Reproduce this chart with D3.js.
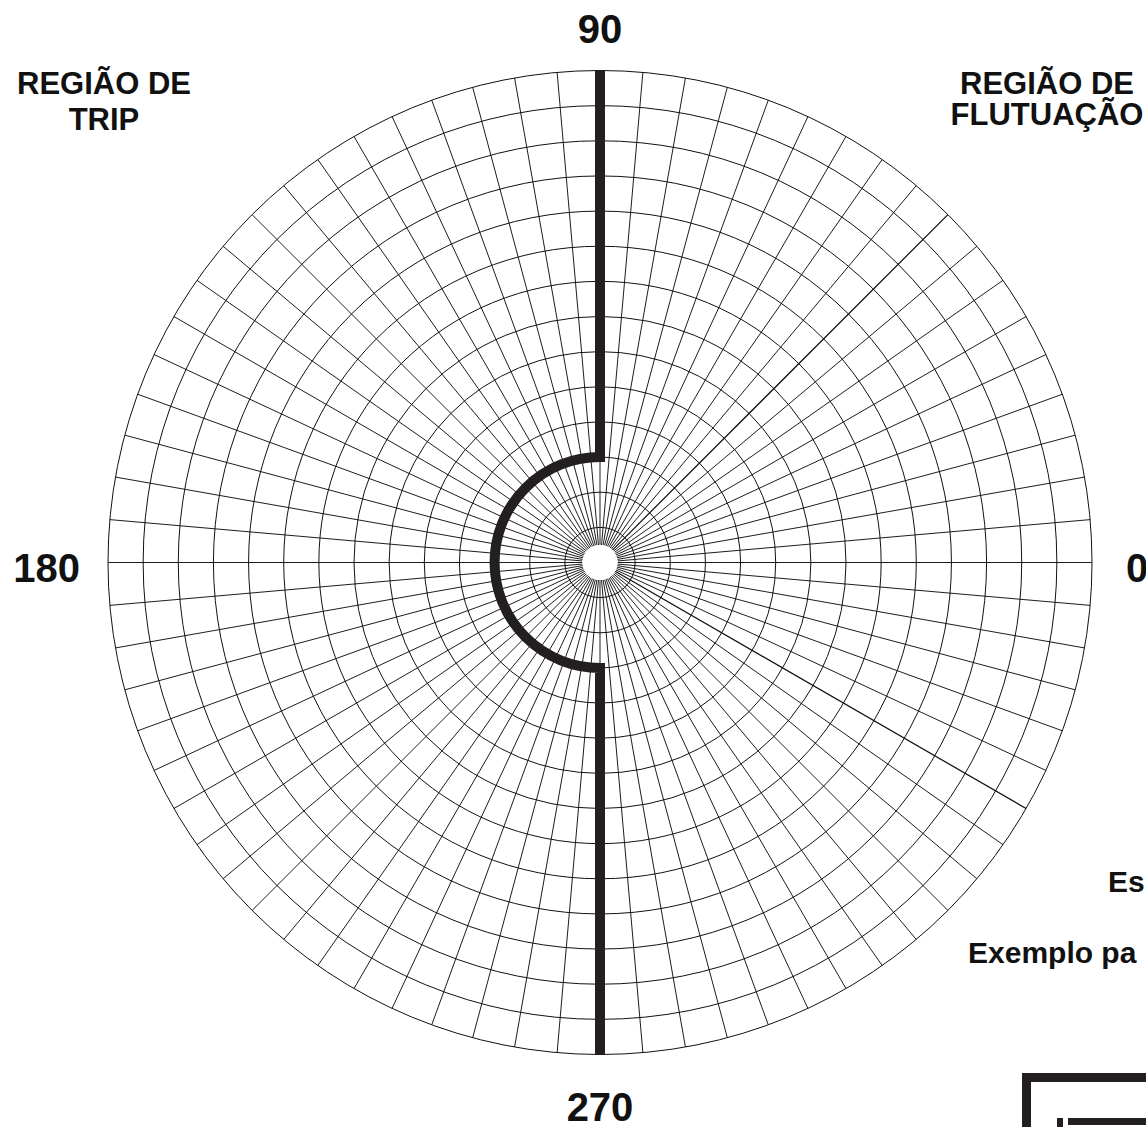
<!DOCTYPE html>
<html>
<head>
<meta charset="utf-8">
<script src="https://cdn.jsdelivr.net/npm/d3@7"></script>
<style>
  html, body { margin: 0; padding: 0; background: #fff; }
  svg { display: block; }
  text { font-family: "Liberation Sans", Arial, sans-serif; font-weight: bold; fill: #111; }
</style>
</head>
<body>
<svg id="chart" width="1146" height="1127"></svg>
<script>
// ---- data ----
const ringValues = [1, 2, 3, 4, 5, 6, 7, 8, 9, 10, 11, 12, 13, 14];
const spokeStep = 5; // degrees between radial grid lines
const emphasisSpokes = [45, 330];
const angleLabels = ["0", "90", "180", "270"];
const angleLabelDegrees = [0, 90, 180, 270];
// trip boundary: [angle (deg), radius (ring units)]
const tripBoundaryTop = [[90, 14], [90, 3]];
const tripBoundaryArc = { radius: 3, fromDeg: 90, toDeg: 270 };
const tripBoundaryBottom = [[270, 3], [270, 14]];
const regionTripLines = ["REGIÃO DE", "TRIP"];
const regionFloatLines = ["REGIÃO DE", "FLUTUAÇÃO"];
const noteLines = ["Es", "Exemplo pa"];

// ---- layout ----
const cx = 600, cy = 562.5, R = 492;
const svg = d3.select("#chart");
svg.append("rect").attr("width", 1146).attr("height", 1127).attr("fill", "#fff");

const r = d3.scaleLinear().domain([0, 14]).range([0, R]);
const toRad = d3.scaleLinear().domain([0, 360]).range([0, 2 * Math.PI]);
const px = (deg, v) => cx + r(v) * Math.cos(toRad(deg));
const py = (deg, v) => cy - r(v) * Math.sin(toRad(deg));

const g = svg.append("g");

// rings
g.selectAll("circle.ring").data(ringValues).join("circle")
  .attr("class", "ring")
  .attr("cx", cx).attr("cy", cy)
  .attr("r", d => r(d))
  .attr("fill", "none").attr("stroke", "#111").attr("stroke-width", 1);

// spokes
const spokes = d3.range(0, 360, spokeStep);
g.selectAll("line.spoke").data(spokes).join("line")
  .attr("class", "spoke")
  .attr("x1", d => px(d, 0.5)).attr("y1", d => py(d, 0.5))
  .attr("x2", d => px(d, 14)).attr("y2", d => py(d, 14))
  .attr("stroke", "#111")
  .attr("stroke-width", d => emphasisSpokes.includes(d) ? 1.25 : 0.95);

// white centre
g.append("circle").attr("cx", cx).attr("cy", cy).attr("r", r(0.5))
  .attr("fill", "#fff").attr("stroke", "none");

// trip boundary
const p = d3.path();
p.moveTo(px(tripBoundaryTop[0][0], tripBoundaryTop[0][1]), py(tripBoundaryTop[0][0], tripBoundaryTop[0][1]));
p.lineTo(px(tripBoundaryTop[1][0], tripBoundaryTop[1][1]), py(tripBoundaryTop[1][0], tripBoundaryTop[1][1]));
p.arc(cx, cy, r(tripBoundaryArc.radius), -toRad(tripBoundaryArc.fromDeg), -toRad(tripBoundaryArc.toDeg) + 2 * Math.PI, true);
p.lineTo(px(tripBoundaryBottom[1][0], tripBoundaryBottom[1][1]), py(tripBoundaryBottom[1][0], tripBoundaryBottom[1][1]));
g.append("path").attr("d", p.toString())
  .attr("fill", "none").attr("stroke", "#231f20").attr("stroke-width", 10)
  .attr("stroke-linejoin", "miter").attr("stroke-linecap", "butt");

// angle labels
const labelPos = {
  0:   { x: px(0, 14) + 34, y: 582, anchor: "start" },
  90:  { x: px(90, 14), y: 43, anchor: "middle" },
  180: { x: px(180, 14) - 28, y: 582, anchor: "end" },
  270: { x: px(270, 14), y: 1121, anchor: "middle" }
};
svg.selectAll("text.angle").data(angleLabelDegrees).join("text")
  .attr("class", "angle")
  .attr("x", d => labelPos[d].x).attr("y", d => labelPos[d].y)
  .attr("text-anchor", d => labelPos[d].anchor)
  .attr("font-size", 40)
  .text((d, i) => angleLabels[i]);

// region labels
svg.selectAll("text.trip").data(regionTripLines).join("text")
  .attr("class", "trip")
  .attr("x", 104).attr("y", (d, i) => 94 + i * 36)
  .attr("text-anchor", "middle").attr("font-size", 31)
  .text(d => d);
svg.selectAll("text.float").data(regionFloatLines).join("text")
  .attr("class", "float")
  .attr("x", 1047).attr("y", (d, i) => 94 + i * 31)
  .attr("text-anchor", "middle").attr("font-size", 31)
  .text(d => d);

// notes (cut at the right edge in the original)
svg.append("text").attr("x", 1108).attr("y", 892).attr("font-size", 30).text(noteLines[0]);
svg.append("text").attr("x", 968).attr("y", 963).attr("font-size", 30).text(noteLines[1]);

// legend frame (partially visible)
const lg = svg.append("g");
lg.append("rect").attr("x", 1026.5).attr("y", 1077.5).attr("width", 200).attr("height", 100)
  .attr("fill", "none").attr("stroke", "#231f20").attr("stroke-width", 9);
lg.append("rect").attr("x", 1057).attr("y", 1118).attr("width", 6).attr("height", 10).attr("fill", "#231f20");
lg.append("rect").attr("x", 1068).attr("y", 1118).attr("width", 90).attr("height", 7).attr("fill", "#231f20");
</script>
</body>
</html>
